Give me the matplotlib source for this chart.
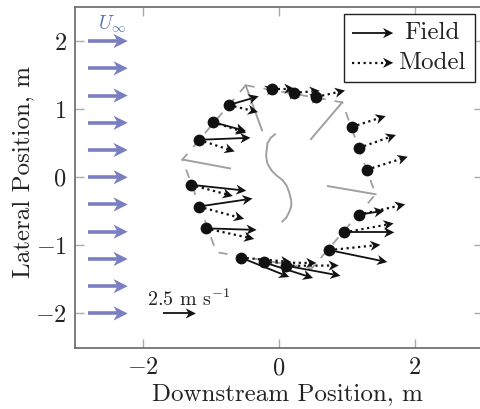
import numpy as np
import matplotlib
matplotlib.use('Agg')
import matplotlib.pyplot as plt
from matplotlib.patches import Rectangle

plt.rcParams['font.family'] = ['cmr10', 'DejaVu Serif']
plt.rcParams['mathtext.fontset'] = 'cm'
plt.rcParams['axes.formatter.use_mathtext'] = True

# measurement points (m)
point_x = [-0.74, -0.97, -1.18, -0.11, 0.22, 0.55, 1.07, 1.17, 1.29,
           1.17, 0.96, 0.74, 0.11, -0.22, -0.56, -1.30, -1.18, -1.08]
point_y = [1.06, 0.81, 0.55, 1.30, 1.24, 1.18, 0.74, 0.43, 0.11,
           -0.55, -0.81, -1.07, -1.30, -1.25, -1.18, -0.11, -0.43, -0.75]

# velocities (m/s)
field_u = [2.26, 2.49, 3.90, 0.30, 0.30, 0.30, 0, 0, 0,
           1.94, 3.77, 4.37, 4.07, 3.70, 3.64, 4.20, 4.05, 3.85]
field_v = [0.66, -0.68, 0.15, 0.10, 0.10, 0.10, 0, 0, 0,
           0.30, 0, -0.90, -0.75, -1.18, -1.46, -0.45, 0.60, -0.12]
model_u = [2.21, 2.49, 2.71, 1.73, 1.94, 2.16, 2.56, 2.82, 3.09,
           3.52, 3.72, 3.85, 3.94, 3.95, 3.79, 3.19, 3.42, 3.67]
model_v = [-0.53, -0.81, -0.88, 0, 0.15, 0.48, 0.81, 0.98, 0.98,
           0.78, 0.68, 0.40, 0.02, -0.05, -0.33, -0.85, -0.93, -0.80]

# turbine outline
hex_x = [-0.49, 0.93, 1.42, 0.48, -0.92, -1.42, -0.49]
hex_y = [1.35, 1.10, -0.25, -1.34, -1.10, 0.26, 1.35]
strut_x = [[-0.49, -0.25], [-1.42, -0.72], [0.93, 0.47], [1.42, 0.72]]
strut_y = [[1.35, 0.69], [0.26, 0.13], [1.10, 0.56], [-0.25, -0.13]]
foil_x = [-0.06, -0.12, -0.17, -0.19, -0.17, -0.11, -0.03, 0.05, 0.11, 0.15, 0.18, 0.18, 0.15, 0.11, 0.05]
foil_y = [0.63, 0.58, 0.50, 0.32, 0.20, 0.10, 0.02, -0.04, -0.12, -0.22, -0.34, -0.43, -0.51, -0.59, -0.65]

# freestream arrows
inflow_y = [2.0, 1.6, 1.2, 0.8, 0.4, 0.0, -0.4, -0.8, -1.2, -1.6, -2.0]
inflow_speed = 3.0
inflow_x = -2.81

arrow_scale = 0.195  # data units per m/s
ticks_x = [-2, 0, 2]
ticks_y = [-2, -1, 0, 1, 2]


def draw_arrow(ax, x, y, dx, dy, color='#111111', lw=1.3, ls='-', head=0.15, zorder=3):
    length = np.hypot(dx, dy)
    if length == 0:
        return
    ux, uy = dx / length, dy / length
    nx, ny = -uy, ux
    tx, ty = x + dx, y + dy
    w = head * 0.5
    notch = head * 0.7
    ax.plot([x, tx - ux * notch], [y, ty - uy * notch], color=color, lw=lw, ls=ls,
            zorder=zorder, solid_capstyle='butt')
    ax.fill([tx, tx - ux * head + nx * w, tx - ux * notch, tx - ux * head - nx * w],
            [ty, ty - uy * head + ny * w, ty - uy * notch, ty - uy * head - ny * w],
            color=color, lw=0, zorder=zorder)


fig = plt.figure(figsize=(4.81, 4.09), dpi=100)
ax = fig.add_axes([75 / 481, 1 - 347.5 / 409, 408 / 481, 340.5 / 409])
ax.set_xlim(-3, 3)
ax.set_ylim(-2.5, 2.5)

ax.plot(hex_x, hex_y, color='#a0a0a0', lw=1.3, dashes=(5, 5), zorder=1)
for sx, sy in zip(strut_x, strut_y):
    ax.plot(sx, sy, color='#a0a0a0', lw=1.4, zorder=1)
ax.plot(foil_x, foil_y, color='#a0a0a0', lw=1.4, zorder=1)

for y in inflow_y:
    draw_arrow(ax, inflow_x, y, inflow_speed * arrow_scale, 0, color='#7a7fc2', lw=2.6, head=0.21)
ax.text(-2.45, 2.25, r'$U_\infty$', color='#5472b8', fontsize=14, ha='center', va='center')

dotted = (0, (1.0, 1.6))
for i in range(len(point_x)):
    draw_arrow(ax, point_x[i], point_y[i], field_u[i] * arrow_scale, field_v[i] * arrow_scale)
    draw_arrow(ax, point_x[i], point_y[i], model_u[i] * arrow_scale, model_v[i] * arrow_scale,
               lw=1.6, ls=dotted)
ax.scatter(point_x, point_y, s=72, color='#111111', lw=0, zorder=4)

# scale arrow
draw_arrow(ax, -1.71, -2.0, 2.5 * arrow_scale, 0)
ax.text(-1.32, -1.79, r'2.5 m s$^{-1}$', fontsize=14.5, ha='center', va='center', color='#222222')

# legend box
ax.add_patch(Rectangle((0.963, 1.397), 1.912, 1.0, fc='white', ec='#222222', lw=1.0, zorder=5))
draw_arrow(ax, 1.08, 2.117, 0.6, 0, zorder=6)
draw_arrow(ax, 1.08, 1.68, 0.6, 0, lw=1.6, ls=dotted, zorder=6)
ax.text(2.25, 2.117, 'Field', fontsize=18, ha='center', va='center', color='#222222', zorder=6)
ax.text(2.25, 1.68, 'Model', fontsize=18, ha='center', va='center', color='#222222', zorder=6)

ax.set_xticks(ticks_x)
ax.set_yticks(ticks_y)
ax.set_xticklabels([f'${t}$' for t in ticks_x])
ax.set_yticklabels([f'${t}$' for t in ticks_y])
ax.tick_params(axis='x', direction='in', length=6.5, width=1.0, color='#aaaaaa', top=True,
               labelsize=17.5, labelcolor='#222222', pad=7)
ax.tick_params(axis='y', direction='in', length=6.5, width=1.0, color='#aaaaaa', right=True,
               labelsize=17.5, labelcolor='#222222', pad=6)
for s in ax.spines.values():
    s.set_color('#666666')
    s.set_linewidth(1.2)
ax.set_xlabel('Downstream Position, m', fontsize=18, color='#222222')
ax.set_ylabel('Lateral Position, m', fontsize=18, color='#222222')
ax.xaxis.set_label_coords(0.52, -0.105)
ax.yaxis.set_label_coords(-0.1, 0.515)

fig.savefig('out.png', dpi=100)
